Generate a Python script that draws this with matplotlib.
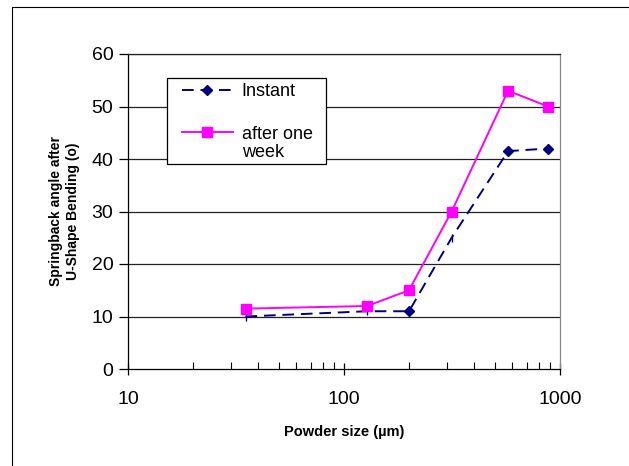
import matplotlib
matplotlib.use("Agg")
import matplotlib.pyplot as plt
from matplotlib.patches import Rectangle
from matplotlib.ticker import LogLocator, NullFormatter

plt.rcParams['font.family'] = ['Liberation Sans', 'DejaVu Sans']

powder_size = [35, 128, 200, 315, 575, 880]
instant = [10, 11, 11, 25, 41.5, 42]
after_week = [11.5, 12, 15, 30, 53, 50]
y_ticks = [0, 10, 20, 30, 40, 50, 60]
x_ticks = [10, 100, 1000]
x_tick_labels = ['10', '100', '1000']

W, H = 629, 466
fig = plt.figure(figsize=(W/100, H/100), dpi=100)


def fx(px):
    return px / W


def fy(py):
    return 1 - py / H


fig.patches.append(Rectangle((fx(12), -0.2), 1.5, fy(7) + 0.2, transform=fig.transFigure,
                             fill=False, edgecolor='black', linewidth=0.8))

ax = fig.add_axes([fx(128), fy(369), (560-128)/W, (369-54)/H])
ax.set_xscale('log')
ax.set_xlim(10, 1000)
ax.set_ylim(0, 60)

for y in y_ticks[1:]:
    ax.axhline(y, color='#222222', linewidth=0.9, zorder=1)

navy = '#000080'
pink = '#FF00FF'
l1, = ax.plot(powder_size, instant, color=navy, linestyle=(0, (6, 3.5)), linewidth=1.4,
              marker='D', markersize=5.5, markevery=[2, 4, 5], zorder=3)
ax.plot([powder_size[i] for i in (0, 1, 3)], [instant[i] for i in (0, 1, 3)],
        linestyle='none', marker='|', markersize=6, color=navy, zorder=3)
l2, = ax.plot(powder_size, after_week, color=pink, linewidth=1.4, marker='s',
              markersize=7.5, zorder=4)

ax.set_yticks(y_ticks)
ax.set_xticks(x_ticks)
ax.set_xticklabels(x_tick_labels)
ax.xaxis.set_minor_locator(LogLocator(base=10, subs=range(2, 10)))
ax.xaxis.set_minor_formatter(NullFormatter())
ax.tick_params(axis='x', which='major', direction='inout', length=8, width=0.9,
               labelsize=14, pad=12)
ax.tick_params(axis='x', which='minor', direction='in', length=5, width=0.8)
ax.tick_params(axis='y', direction='out', length=6.5, width=0.9, labelsize=14, pad=4)

ax.spines['left'].set_color('black')
ax.spines['bottom'].set_color('black')
ax.spines['top'].set_color('#222222')
ax.spines['right'].set_color('#888888')
for s in ax.spines.values():
    s.set_linewidth(0.9)

ax.set_xlabel('Powder size (µm)', fontsize=10.5, fontweight='bold', labelpad=12)
ax.set_ylabel('Springback angle after\nU-Shape Bending (o)', fontsize=10,
              fontweight='bold', labelpad=8, linespacing=1.3)

# legend box
fig.patches.append(Rectangle((fx(167), fy(164)), fx(326) - fx(167), fy(78) - fy(164),
                             transform=fig.transFigure, facecolor='white',
                             edgecolor='black', linewidth=0.9, zorder=2))
leg = fig.legend([l1, l2], ['Instant', 'after one'], loc='upper left',
                 bbox_to_anchor=(fx(182), fy(83)), bbox_transform=fig.transFigure,
                 fontsize=13, frameon=False, borderpad=0, borderaxespad=0,
                 labelspacing=1.42, handlelength=2.8, handletextpad=0.5)
leg.set_zorder(5)
fig.text(fx(242), fy(152.5), 'week', fontsize=13, ha='left', va='center', zorder=6)

fig.savefig('out.png', dpi=100)
